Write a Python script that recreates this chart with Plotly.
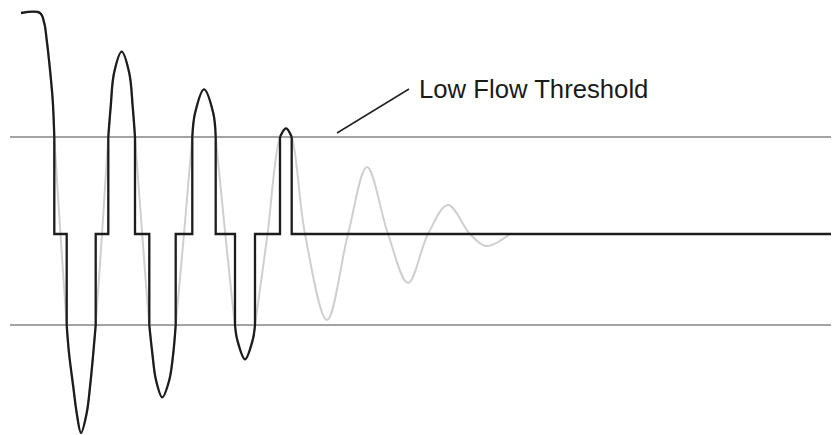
import plotly.graph_objects as go

# ---- data (time units along x, flow units along y; 0 = no-flow level) ----
upper_threshold = 97
lower_threshold = -91
threshold_start = 10
chart_end = 839

# raw (damped) flow signal, grey
raw_t = [21, 40, 44.3, 46.7, 49, 52.7, 54.3, 60.5,
         66.7, 69, 73.3, 76.7, 81, 86.7, 90, 93.3, 95.7, 102,
         108.3, 110.7, 114, 121.7, 129.3, 132.7, 135, 142.2,
         149.3, 152.3, 156, 162.3, 169.3, 173.3, 175.7, 184,
         192.3, 195, 204, 213.3, 215.7, 225.3,
         235, 237.3, 245, 252.7, 255, 267.5,
         280, 286, 291.7, 305, 327, 348, 367, 388, 408, 428, 448, 470, 486, 510]
raw_flow = [221, 221, 210.7, 194, 174, 134, 97, 0,
            -91, -119, -153, -179, -199, -179, -153, -119, -91, 0,
            97, 127.3, 160.7, 182.3, 160.7, 127.3, 97, 0,
            -91, -119, -146, -163.3, -146, -119, -91, 0,
            97, 120.7, 144.7, 120.7, 97, 0,
            -91, -106, -125.3, -106, -91, 0,
            97, 105.7, 97, 0, -86, 0, 67, 0, -49, 0, 29, 0, -12, 0]

# filtered signal: lobes outside the threshold band (black, curved)
lobe_t = [21, 40, 44.3, 46.7, 49, 52.7, 54.3, None,
          66.7, 69, 73.3, 76.7, 81, 86.7, 90, 93.3, 95.7, None,
          108.3, 110.7, 114, 121.7, 129.3, 132.7, 135, None,
          149.3, 152.3, 156, 162.3, 169.3, 173.3, 175.7, None,
          192.3, 195, 204, 213.3, 215.7, None,
          235, 237.3, 245, 252.7, 255, None,
          280, 286, 291.7]
lobe_flow = [221, 221, 210.7, 194, 174, 134, 97, None,
             -91, -119, -153, -179, -199, -179, -153, -119, -91, None,
             97, 127.3, 160.7, 182.3, 160.7, 127.3, 97, None,
             -91, -119, -146, -163.3, -146, -119, -91, None,
             97, 120.7, 144.7, 120.7, 97, None,
             -91, -106, -125.3, -106, -91, None,
             97, 105.7, 97]

# filtered signal: clamped steps inside the band (black, straight)
step_t = [54.3, 54.3, 66.7, 66.7, None,
          95.7, 95.7, 108.3, 108.3, None,
          135, 135, 149.3, 149.3, None,
          175.7, 175.7, 192.3, 192.3, None,
          215.7, 215.7, 235, 235, None,
          255, 255, 280, 280, None,
          291.7, 291.7, 839]
step_flow = [97, 0, 0, -91, None,
             -91, 0, 0, 97, None,
             97, 0, 0, -91, None,
             -91, 0, 0, 97, None,
             97, 0, 0, -91, None,
             -91, 0, 0, 97, None,
             97, 0, 0]

label_text = "Low Flow Threshold"
leader_t = [337, 409]
leader_flow = [101, 145]
label_t = 417
label_flow = 145

fig = go.Figure()

# threshold lines
fig.add_trace(go.Scatter(x=[threshold_start, chart_end], y=[upper_threshold, upper_threshold],
                         mode="lines", line=dict(color="#a3a3a3", width=2), hoverinfo="skip"))
fig.add_trace(go.Scatter(x=[threshold_start, chart_end], y=[lower_threshold, lower_threshold],
                         mode="lines", line=dict(color="#a3a3a3", width=2), hoverinfo="skip"))
# raw signal
fig.add_trace(go.Scatter(x=raw_t, y=raw_flow, mode="lines",
                         line=dict(color="#cfcfcf", width=2, shape="spline"), hoverinfo="skip"))
# filtered signal
fig.add_trace(go.Scatter(x=lobe_t, y=lobe_flow, mode="lines", connectgaps=False,
                         line=dict(color="#1c1c1c", width=2.3, shape="spline"), hoverinfo="skip"))
fig.add_trace(go.Scatter(x=step_t, y=step_flow, mode="lines", connectgaps=False,
                         line=dict(color="#1c1c1c", width=2.3), hoverinfo="skip"))
# leader line
fig.add_trace(go.Scatter(x=leader_t, y=leader_flow, mode="lines",
                         line=dict(color="#222222", width=1.5), hoverinfo="skip"))

fig.add_annotation(x=label_t, y=label_flow, text=label_text, showarrow=False,
                   xanchor="left", yanchor="middle",
                   font=dict(family="Liberation Sans, Arial, sans-serif", size=25.7, color="#1a1a1a"))

# the page body has an 8px margin, so the figure is 8px smaller and its
# axis ranges start 8px in, to land on the same window pixels
fig.update_layout(
    width=831, height=427,
    margin=dict(l=0, r=0, t=0, b=0),
    paper_bgcolor="white", plot_bgcolor="white",
    showlegend=False,
    xaxis=dict(range=[8, 839], visible=False, fixedrange=True),
    yaxis=dict(range=[-201, 226], visible=False, fixedrange=True),
)

fig.write_html("out.html", config={"displayModeBar": False})
